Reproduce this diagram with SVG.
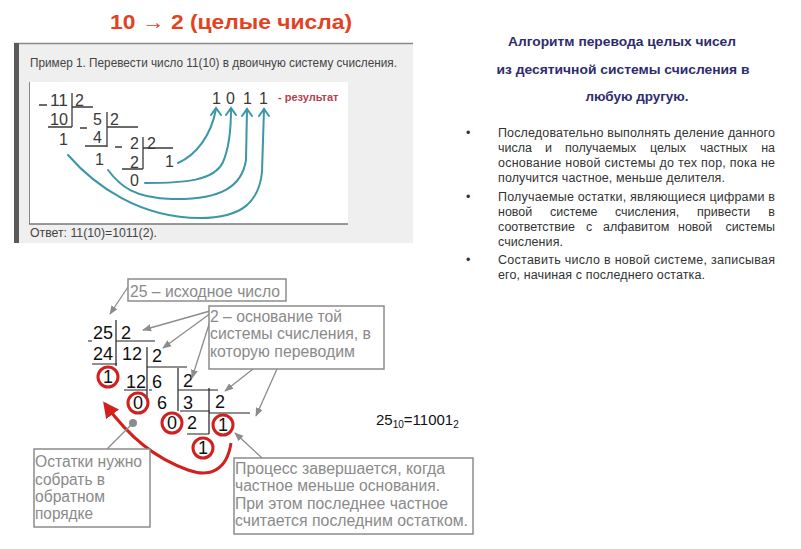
<svg xmlns="http://www.w3.org/2000/svg" width="801" height="549" viewBox="0 0 801 549">
<defs>
<style>
.ar{font-family:"Liberation Sans",Arial,sans-serif}
.dg{font-family:"Liberation Sans",Arial,sans-serif;font-size:16px;fill:#3a3a3a}
.bd{font-family:"Liberation Sans",Arial,sans-serif;font-size:18px;fill:#111}
.bx{font-family:"Liberation Sans",Arial,sans-serif;font-size:16px;fill:#8a8a8a}
.bt{font-family:"Liberation Sans",Arial,sans-serif;font-size:12.5px;fill:#333}
.hd{font-family:"Liberation Sans",Arial,sans-serif;font-size:13px;font-weight:bold;fill:#2e2c6e}
.ln{stroke:#3a3a3a;stroke-width:1.3;fill:none}
.bl{stroke:#222;stroke-width:1.2;fill:none}
.teal{stroke:#3b96a6;stroke-width:2;fill:none;stroke-linecap:round}
.box{fill:#fff;stroke:#8c8c8c;stroke-width:1.5}
.ptr{stroke:#8c8c8c;stroke-width:1.3;fill:none}
.rc{fill:none;stroke:#d2201f;stroke-width:3}
</style>
<marker id="ga" viewBox="0 0 10 10" refX="9" refY="5" markerWidth="9" markerHeight="9" markerUnits="userSpaceOnUse" orient="auto"><path d="M0,1 L10,5 L0,9 Z" fill="#8c8c8c"/></marker>
<marker id="ra" viewBox="0 0 10 10" refX="8" refY="5" markerWidth="16" markerHeight="16" markerUnits="userSpaceOnUse" orient="auto"><path d="M0,0 L10,5 L0,10 Z" fill="#d2201f"/></marker>
</defs>
<rect width="801" height="549" fill="#fff"/>

<!-- Title -->
<text x="231" y="29" text-anchor="middle" class="ar" font-size="20" font-weight="bold" fill="#e4421f" textLength="242" lengthAdjust="spacingAndGlyphs">10 → 2 (целые числа)</text>

<!-- Top-left panel -->
<g id="example-panel">
<rect x="14" y="43" width="399" height="200" fill="#efefef"/>
<line x1="14" y1="43.5" x2="413" y2="43.5" stroke="#8a8a8a" stroke-width="1.5"/>
<rect x="14" y="43" width="5" height="200" fill="#5a5a5a"/>
<rect x="29" y="82" width="319" height="142" fill="#fff"/>
<line x1="29.5" y1="82" x2="29.5" y2="224" stroke="#888" stroke-width="1"/>
<line x1="29" y1="224" x2="348" y2="224" stroke="#777" stroke-width="1.5"/>
<text x="30" y="67" class="ar" font-size="12" fill="#444" textLength="367" lengthAdjust="spacingAndGlyphs">Пример 1. Перевести число 11(10) в двоичную систему счисления.</text>
<text x="30" y="237" class="ar" font-size="12" fill="#444" textLength="127" lengthAdjust="spacingAndGlyphs">Ответ: 11(10)=1011(2).</text>
<!-- division -->
<text x="50" y="106" class="dg" textLength="18" lengthAdjust="spacingAndGlyphs">11</text>
<text x="75" y="106" class="dg">2</text>
<text x="50" y="125" class="dg" textLength="18" lengthAdjust="spacingAndGlyphs">10</text>
<text x="59" y="145" class="dg">1</text>
<text x="93" y="125" class="dg">5</text>
<text x="110" y="125" class="dg">2</text>
<text x="93" y="143" class="dg">4</text>
<text x="95" y="165" class="dg">1</text>
<text x="130" y="149" class="dg">2</text>
<text x="147" y="149" class="dg">2</text>
<text x="130" y="168" class="dg">2</text>
<text x="130" y="186" class="dg">0</text>
<text x="165" y="167" class="dg">1</text>
<path class="ln" d="M39,105 H47 M72,93 V127 M72,107 H93 M48,127 H72 M80,128 H87 M107,112 V147 M107,127 H138 M85,146 H107 M115,147 H122 M143,137 V169 M143,148 H173 M122,169 H143"/>
<!-- result -->
<text x="212" y="104" class="ar" font-size="16" fill="#3a3a3a">1</text>
<text x="226" y="104" class="ar" font-size="16" fill="#3a3a3a">0</text>
<text x="243" y="104" class="ar" font-size="16" fill="#3a3a3a">1</text>
<text x="259" y="104" class="ar" font-size="16" fill="#3a3a3a">1</text>
<text x="278" y="101" class="ar" font-size="11" font-weight="bold" fill="#b5404f">- результат</text>
</g>

<g id="teal-arrows">
<path class="teal" d="M178,163 C196,155 211,136 216,109"/>
<path class="teal" d="M145,183 C185,183 214,181 223,162 C230,146 231,126 231,109"/>
<path class="teal" d="M108,170 C120,186 134,198 172,199 C222,200 242,186 246,160 L247,109"/>
<path class="teal" d="M68,155 C95,186 140,218 200,218 C243,218 259,201 262,172 L264,109"/>
<path class="teal" d="M211,115 L216,108 L221,115 M226,115 L231,108 L236,115 M242,116 L247,109 L252,116 M259,116 L264,109 L269,116"/>
</g>

<!-- Right text block -->
<g id="algorithm-text">
<text x="622" y="46" text-anchor="middle" class="hd" textLength="228" lengthAdjust="spacingAndGlyphs">Алгоритм перевода целых чисел</text>
<text x="623" y="74" text-anchor="middle" class="hd" textLength="253" lengthAdjust="spacingAndGlyphs">из десятичной системы счисления в</text>
<text x="637" y="101" text-anchor="middle" class="hd" textLength="103" lengthAdjust="spacingAndGlyphs">любую другую.</text>
<text x="466" y="137" class="bt">•</text>
<text x="498" y="137" class="bt" textLength="277" lengthAdjust="spacing">Последовательно выполнять деление данного</text>
<text y="152" class="bt"><tspan x="498">числа</tspan><tspan x="545">и</tspan><tspan x="565">получаемых</tspan><tspan x="650">целых</tspan><tspan x="700">частных</tspan></text>
<text x="775" y="152" class="bt" text-anchor="end">на</text>
<text x="498" y="167" class="bt" textLength="277" lengthAdjust="spacing">основание новой системы до тех пор, пока не</text>
<text x="498" y="182" class="bt" textLength="227" lengthAdjust="spacing">получится частное, меньше делителя.</text>
<text x="466" y="201" class="bt">•</text>
<text x="498" y="201" class="bt" textLength="277" lengthAdjust="spacing">Получаемые остатки, являющиеся цифрами в</text>
<text y="216" class="bt"><tspan x="498">новой</tspan><tspan x="550">системе</tspan><tspan x="615">счисления,</tspan><tspan x="697">привести</tspan></text>
<text x="775" y="216" class="bt" text-anchor="end">в</text>
<text y="231" class="bt"><tspan x="498">соответствие</tspan><tspan x="586">с</tspan><tspan x="603">алфавитом</tspan><tspan x="678">новой</tspan></text>
<text x="775" y="231" class="bt" text-anchor="end">системы</text>
<text x="498" y="246" class="bt" textLength="65" lengthAdjust="spacing">счисления.</text>
<text x="466" y="264" class="bt">•</text>
<text x="498" y="264" class="bt" textLength="277" lengthAdjust="spacing">Составить число в новой системе, записывая</text>
<text x="498" y="279" class="bt" textLength="207" lengthAdjust="spacing">его, начиная с последнего остатка.</text>
</g>

<!-- Bottom-left division ladder -->
<g id="ladder">
<text x="93" y="339" class="bd">25</text>
<text x="121" y="339" class="bd">2</text>
<text x="93" y="360" class="bd">24</text>
<text x="122" y="360" class="bd">12</text>
<text x="152" y="362" class="bd">2</text>
<text x="126" y="388" class="bd">12</text>
<text x="152" y="388" class="bd">6</text>
<text x="183" y="387" class="bd">2</text>
<text x="157" y="409" class="bd">6</text>
<text x="183" y="409" class="bd">3</text>
<text x="215" y="408" class="bd">2</text>
<text x="187" y="429" class="bd">2</text>
<path class="bl" d="M88,341 H92 M116,320 V366 M116,341 H155 M92,364 H117 M147,347 V398 M147,367 H187 M124,390 H147 M178,368 V411 M178,390 H218 M180,411 H210 M209,388 V434 M209,413 H250 M187,434 H209 M149,390 H152"/>
</g>
<g id="remainders">
<circle class="rc" cx="108" cy="377" r="10"/>
<text x="108" y="383" text-anchor="middle" class="bd">1</text>
<circle class="rc" cx="138" cy="403" r="10"/>
<text x="138" y="409" text-anchor="middle" class="bd">0</text>
<circle class="rc" cx="172" cy="423" r="10"/>
<text x="172" y="429" text-anchor="middle" class="bd">0</text>
<circle class="rc" cx="223" cy="425" r="10"/>
<text x="223" y="431" text-anchor="middle" class="bd">1</text>
<circle class="rc" cx="203" cy="448" r="10"/>
<text x="203" y="454" text-anchor="middle" class="bd">1</text>
</g>

<g id="connectors">
<path d="M231,443 C227,470 210,478 188,470 C155,458 130,438 105,404" fill="none" stroke="#d2201f" stroke-width="3" marker-end="url(#ra)"/>
<line class="ptr" x1="128" y1="287" x2="110" y2="314" marker-end="url(#ga)"/>
<line class="ptr" x1="210" y1="311" x2="143" y2="330" marker-end="url(#ga)"/>
<line class="ptr" x1="211" y1="313" x2="163" y2="348" marker-end="url(#ga)"/>
<line class="ptr" x1="212" y1="315" x2="192" y2="378" marker-end="url(#ga)"/>
<line class="ptr" x1="253" y1="369" x2="225" y2="391" marker-end="url(#ga)"/>
<line class="ptr" x1="277" y1="369" x2="256" y2="416" marker-end="url(#ga)"/>
<line class="ptr" x1="262" y1="458" x2="235" y2="433" marker-end="url(#ga)"/>
<line class="ptr" x1="133" y1="423" x2="107" y2="449"/>
<circle cx="133" cy="423" r="4" fill="#8c8c8c"/>
</g>

<g id="box-source">
<rect class="box" x="128" y="279" width="158" height="22"/>
<text x="130" y="297" class="bx" textLength="150" lengthAdjust="spacingAndGlyphs">25 – исходное число</text>
</g>
<g id="box-base">
<rect class="box" x="209" y="306" width="175" height="63"/>
<text x="210" y="322" class="bx" textLength="132" lengthAdjust="spacingAndGlyphs">2 – основание той</text>
<text x="210" y="339" class="bx" textLength="161" lengthAdjust="spacingAndGlyphs">системы счисления, в</text>
<text x="210" y="357" class="bx" textLength="145" lengthAdjust="spacingAndGlyphs">которую переводим</text>
</g>
<g id="box-reverse">
<rect class="box" x="34" y="449" width="116" height="78"/>
<text x="35" y="467" class="bx" textLength="107" lengthAdjust="spacingAndGlyphs">Остатки нужно</text>
<text x="35" y="485" class="bx" textLength="70" lengthAdjust="spacingAndGlyphs">собрать в</text>
<text x="35" y="502" class="bx" textLength="70" lengthAdjust="spacingAndGlyphs">обратном</text>
<text x="35" y="519" class="bx" textLength="58" lengthAdjust="spacingAndGlyphs">порядке</text>
</g>
<g id="box-end">
<rect class="box" x="234" y="458" width="239" height="76"/>
<text x="235" y="474" class="bx" textLength="210" lengthAdjust="spacingAndGlyphs">Процесс завершается, когда</text>
<text x="235" y="491" class="bx" textLength="205" lengthAdjust="spacingAndGlyphs">частное меньше основания.</text>
<text x="235" y="509" class="bx" textLength="213" lengthAdjust="spacingAndGlyphs">При этом последнее частное</text>
<text x="235" y="526" class="bx" textLength="233" lengthAdjust="spacingAndGlyphs">считается последним остатком.</text>
</g>

<g id="formula">
<text x="376" y="425" class="ar" font-size="15" fill="#111">25<tspan font-size="10" dy="3">10</tspan><tspan dy="-3">=11001</tspan><tspan font-size="10" dy="3">2</tspan></text>
</g>
</svg>
